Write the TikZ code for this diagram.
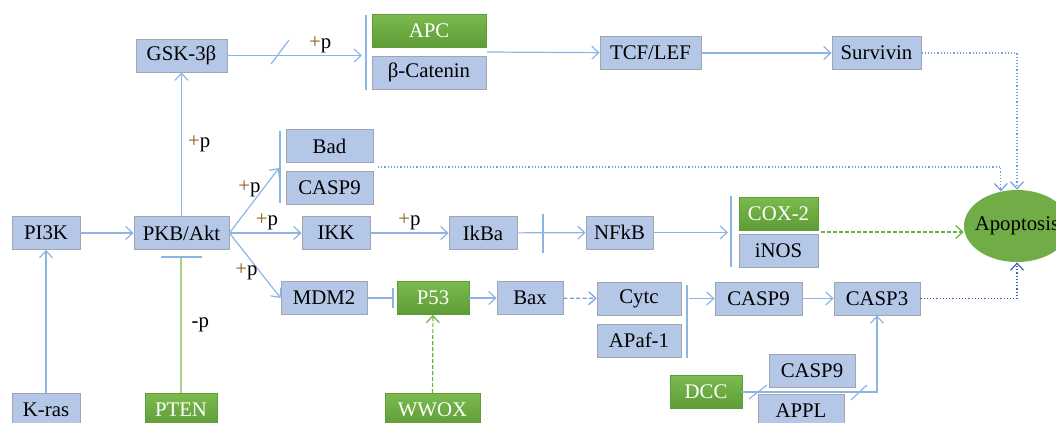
\documentclass[tikz,border=0pt]{standalone}
\usepackage{fontspec}
\setmainfont{Liberation Serif}
\usepackage{xcolor}
\usepackage{tikz}
\usetikzlibrary{shapes,arrows.meta,positioning,calc}

\definecolor{boxblue}{HTML}{B4C7E7}
\definecolor{boxedge}{HTML}{9FA6B0}
\definecolor{gtop}{HTML}{7BBA4C}
\definecolor{gbot}{HTML}{5E9C37}
\definecolor{linkblue}{HTML}{8EB4E3}
\definecolor{dotblue}{HTML}{6FA0DC}
\definecolor{deepblue}{HTML}{3C64B4}
\definecolor{linkgreen}{HTML}{A9D18E}
\definecolor{dotgreen}{HTML}{6DB33F}
\definecolor{plusbrown}{HTML}{8B5A14}
\definecolor{apopgreen}{HTML}{70AD47}

\tikzset{
  gene/.style={draw=boxedge, fill=boxblue, minimum height=16.5pt, inner sep=0pt, font=\fontsize{10.4}{12}\selectfont},
  ggene/.style={gene, draw=gbot, top color=gtop, bottom color=gbot, text=white},
  link/.style={draw=linkblue, line width=0.6pt, -{Straight Barb[length=3.5pt,width=6.5pt]}},
  dotlink/.style={link, draw=dotblue, densely dotted},
  greenlink/.style={link, draw=dotgreen, dash pattern=on 2pt off 1pt},
  bar/.style={draw=linkblue, line width=0.6pt},
  tag/.style={font=\fontsize{10.4}{12}\selectfont, inner sep=1pt}
}
\newcommand{\plusp}{{\color{plusbrown}+}p}

\begin{document}
\begin{tikzpicture}[x=0.5pt, y=-0.5pt]
    \useasboundingbox (0,0) rectangle (1056,423);
    \clip (0,0) rectangle (1056,423);

    % top row: Wnt branch
    \node [gene, minimum width=45.5pt] (gsk) at (181.5,55.5) {GSK-3β};
    \node [ggene, minimum width=57pt] (apc) at (429,30.5) {APC};
    \node [gene, minimum width=57pt] (bcat) at (429,72.5) {β-Catenin};
    \node [gene, minimum width=50.5pt] (tcf) at (650.5,53) {TCF/LEF};
    \node [gene, minimum width=44.5pt] (surv) at (876.5,53) {Survivin};

    % Bad / CASP9 pair
    \node [gene, minimum width=43.5pt] (bad) at (329.5,146) {Bad};
    \node [gene, minimum width=43.5pt] (casp9a) at (329.5,187.5) {CASP9};

    % middle row
    \node [gene, minimum width=34pt] (pi3k) at (46,233) {PI3K};
    \node [gene, minimum width=47.5pt] (pkb) at (181.5,233) {PKB/Akt};
    \node [gene, minimum width=34pt] (ikk) at (336,233) {IKK};
    \node [gene, minimum width=34pt] (ikba) at (483,233) {IkBa};
    \node [gene, minimum width=33.5pt] (nfkb) at (619.5,232.5) {NFkB};
    \node [ggene, minimum width=39.5pt] (cox) at (778.5,213.5) {COX-2};
    \node [gene, minimum width=39.5pt] (inos) at (778.5,250.5) {iNOS};
    \node [ellipse, fill=apopgreen, minimum width=53pt, minimum height=36pt, inner sep=0pt] (apop) at (1017,226) {};
    \node [tag] (apoptxt) at (apop.center) {Apoptosis};

    % p53 row
    \node [gene, minimum width=43pt] (mdm2) at (324,298) {MDM2};
    \node [ggene, minimum width=36pt] (p53) at (433,298) {P53};
    \node [gene, minimum width=33pt] (bax) at (530,298) {Bax};
    \node [gene, minimum width=42pt] (cytc) at (639,298.5) {Cytc};
    \node [gene, minimum width=42pt] (apaf) at (639,340.5) {APaf-1};
    \node [gene, minimum width=43.5pt] (casp9b) at (758.5,298.5) {CASP9};
    \node [gene, minimum width=43pt] (casp3) at (877,298.5) {CASP3};

    % bottom row
    \node [gene, minimum width=43pt] (casp9c) at (812,370.5) {CASP9};
    \node [gene, minimum width=43pt] (appl) at (801,411) {APPL};
    \node [ggene, minimum width=36pt] (dcc) at (706,392) {DCC};
    \node [gene, minimum width=34pt] (kras) at (46,410) {K-ras};
    \node [ggene, minimum width=36pt] (pten) at (181,410) {PTEN};
    \node [ggene, minimum width=47.5pt] (wwox) at (432.5,410) {WWOX};

    % free ends at the bars
    \coordinate (catin) at (362,55.5);
    \coordinate (catout) at (487,52);
    \coordinate (badin) at (279,168);
    \coordinate (badout) at (378,167);
    \coordinate (coxin) at (728,232.5);
    \coordinate (coxout) at (821,232);
    \coordinate (apafout) at (689,298.5);
    \coordinate (ptenbar) at (181,257);

    % bars
    \draw [bar] (366,15) -- (366,90); % APC / beta-catenin
    \draw [bar] (280,131) -- (280,203); % Bad / CASP9
    \draw [bar] (731,196) -- (731,267); % COX-2 / iNOS
    \draw [bar] (687,285) -- (687,358); % Cytc / APaf-1
    \draw [bar] (543,214) -- (543,253); % IkBa cut
    \draw [bar] (271,64) -- (289,40); % slash on GSK-3b line
    \draw [bar] (749,399) -- (767,385); % slashes on DCC line
    \draw [bar] (851,400) -- (867,385);

    % connectors
    \draw [link] (kras) -- (pi3k);
    \draw [link] (pi3k) -- (pkb);
    \draw [link] (pkb) -- node [tag, right=2pt] (lblgsk) {\plusp} (gsk);
    \draw [link] (gsk) -- node [tag, above, pos=0.69] (lblcat) {\plusp} (catin);
    \draw [link] (catout) -- (tcf);
    \draw [link] (tcf) -- (surv);
    \draw [dotlink] (surv) -| (apop.north);
    \draw [dotlink] (badout) -| (apop.115);
    \draw [link] (pkb.east) -- node [tag, left, pos=0.68] (lblbad) {\plusp} (badin);
    \draw [link] (pkb.east) -- node [tag, above, pos=0.52] (lblikk) {\plusp} (ikk.west);
    \draw [link] (pkb.east) -- node [tag, left, pos=0.6] (lblmdm) {\plusp} (mdm2.west);
    \draw [link] (ikk) -- node [tag, above] (lblikba) {\plusp} (ikba);
    \draw [link] (ikba) -- (nfkb);
    \draw [link] (nfkb) -- (coxin);
    \draw [greenlink] (coxout) -- (apop.west |- coxout);
    \draw [link, -{Bar[width=10pt]}, shorten >=1.5pt] (mdm2) -- (p53);
    \draw [link] (p53) -- (bax);
    \draw [link, draw=dotblue, dash pattern=on 2pt off 1.2pt] (bax) -- (cytc);
    \draw [greenlink] (wwox) -- (p53);
    \draw [link] (apafout) -- (casp9b);
    \draw [link] (casp9b) -- (casp3);
    \draw [dotlink, draw=deepblue] (casp3) -| (apop.south);
    \draw [link] (dcc) -| (casp3.south);
    \draw [draw=linkgreen, line width=0.6pt] (pten) -- node [tag, right=4pt] (lblpten) {-p} (ptenbar);
    \draw [bar] (161,257) -- (202,257); % PTEN block
\end{tikzpicture}
\end{document}
